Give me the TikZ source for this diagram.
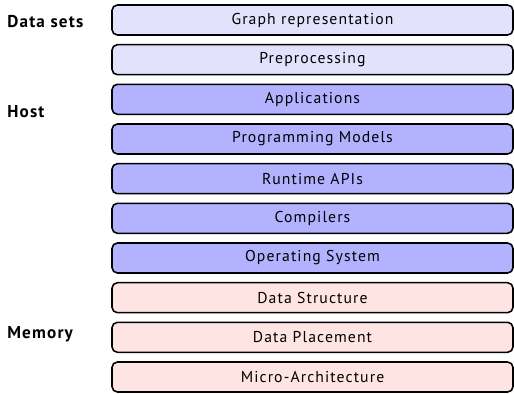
\documentclass[tikz,border=0pt]{standalone}
\usepackage{fontspec}
\setmainfont{PT Sans}[LetterSpace=7]
\usepackage{tikz}
\usetikzlibrary{calc}
\usepackage{xcolor}

\definecolor{dataclr}{RGB}{226,226,252}
\definecolor{hostclr}{RGB}{178,178,255}
\definecolor{memclr}{RGB}{255,228,228}

\tikzset{
  layer/.style={draw=black, line width=1.1pt, rounded corners=3.8pt,
    minimum width=280.7pt, minimum height=21pt, inner sep=0pt,
    font=\fontsize{11}{12}\selectfont},
  side/.style={anchor=base west, inner sep=0pt, font=\fontsize{12}{14}\selectfont\bfseries}
}

\begin{document}
\begin{tikzpicture}[x=0.7pt,y=-0.7pt]
  \useasboundingbox (0,0) rectangle (514,393);
  % stacked layers
  \node[layer, fill=dataclr] (graph) at (312.5,20) {Graph representation};
  \node[layer, fill=dataclr] (prep) at (312.5,59.7) {Preprocessing};
  \node[layer, fill=hostclr] (apps) at (312.5,99.3) {Applications};
  \node[layer, fill=hostclr] (progm) at (312.5,139) {Programming Models};
  \node[layer, fill=hostclr] (rtapi) at (312.5,178.7) {Runtime APIs};
  \node[layer, fill=hostclr] (comp) at (312.5,218.3) {Compilers};
  \node[layer, fill=hostclr] (os) at (312.5,258) {Operating System};
  \node[layer, fill=memclr] (dstruct) at (312.5,297.7) {Data Structure};
  \node[layer, fill=memclr] (dplace) at (312.5,337.3) {Data Placement};
  \node[layer, fill=memclr] (march) at (312.5,377) {Micro-Architecture};
  % side labels
  \node[side] (lbldata) at (7,28) {Data sets};
  \node[side] (lblhost) at (7,117) {Host};
  \node[side] (lblmem) at (7,338) {Memory};
\end{tikzpicture}
\end{document}
